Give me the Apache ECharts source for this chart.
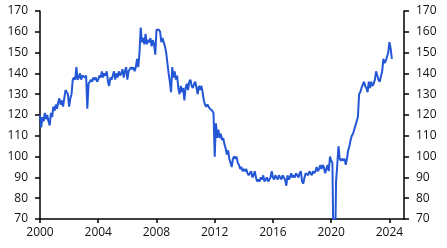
<!DOCTYPE html>
<html>
<head>
<meta charset="utf-8">
<script src="https://cdn.jsdelivr.net/npm/echarts@6/dist/echarts.min.js"></script>
<style>
html,body{margin:0;padding:0;background:#fff;}
#chart{width:447px;height:248px;}
</style>
</head>
<body>
<div id="chart"></div>
<script>
// Monthly index values, Jan 2000 onwards
const startYear = 2000;
const y2000 = [120, 114, 119, 117, 121, 118, 120, 117, 115, 121, 119, 124];
const y2001 = [122, 125, 123, 126, 128, 125, 127, 124, 128, 132, 131, 130];
const y2002 = [124, 128, 130, 137, 138, 137, 143, 137, 138, 140, 137, 139];
const y2003 = [139, 138, 139, 123, 135, 136, 137, 136, 138, 137, 138, 136];
const y2004 = [137, 139, 138, 141, 138, 140, 139, 141, 136, 134, 138, 137];
const y2005 = [139, 141, 137, 140, 138, 141, 139, 140, 142, 138, 141, 143];
const y2006 = [137, 141, 142, 143, 142, 143, 141, 143, 147, 143, 150, 162];
const y2007 = [155, 157, 154, 159, 154, 156, 155, 157, 153, 156, 154, 149];
const y2008 = [161, 161, 161, 160, 155, 157, 155, 153, 150, 145, 140, 136];
const y2009 = [131, 143, 138, 141, 137, 139, 133, 130, 134, 131, 133, 127];
const y2010 = [133, 135, 132, 136, 137, 134, 133, 135, 136, 133, 130, 134];
const y2011 = [132, 134, 131, 127, 125, 124, 125, 124, 123, 123, 122, 121];
const y2012 = [100, 116, 109, 113, 109, 111, 108, 109, 106, 104, 101, 103];
const y2013 = [99, 97, 95, 99, 100, 99, 100, 97, 96, 94, 95, 93];
const y2014 = [94, 93, 94, 92, 91, 92, 93, 90, 91, 93, 90, 88];
const y2015 = [89, 88, 90, 89, 91, 88, 89, 90, 88, 89, 90, 93];
const y2016 = [90, 89, 91, 90, 89, 91, 90, 89, 91, 90, 89, 86];
const y2017 = [91, 89, 90, 92, 90, 91, 90, 92, 91, 90, 92, 93];
const y2018 = [88, 87, 90, 92, 92, 91, 93, 92, 91, 93, 92, 93];
const y2019 = [95, 93, 94, 96, 94, 96, 95, 92, 92, 96, 93, 100];
const y2020 = [98, 97, 50, 45, 88, 96, 105, 99, 98, 99, 98, 99];
const y2021 = [96, 99, 103, 105, 108, 110, 111, 113, 115, 117, 119, 130];
const y2022 = [131, 133, 133, 136, 134, 133, 131, 136, 133, 136, 134, 135];
const y2023 = [137, 141, 139, 137, 136, 136, 141, 147, 145, 146, 148, 150];
const y2024 = [155, 152, 147];

const xTickYears = [2000, 2004, 2008, 2012, 2016, 2020, 2024];
const yTicks = [70, 80, 90, 100, 110, 120, 130, 140, 150, 160, 170];

const allValues = [].concat(y2000, y2001, y2002, y2003, y2004, y2005, y2006, y2007,
  y2008, y2009, y2010, y2011, y2012, y2013, y2014, y2015, y2016, y2017, y2018,
  y2019, y2020, y2021, y2022, y2023, y2024);
const seriesData = allValues.map((v, i) => [startYear + i / 12, v]);

const font = '"Open Sans", "Noto Sans", sans-serif';
const axisColor = '#000';
const labelStyle = { color: '#111', fontSize: 12, fontFamily: font };

const yAxisCommon = {
  type: 'value', min: 70, max: 170, interval: 10,
  splitLine: { show: false },
  axisLine: { show: true, lineStyle: { color: axisColor, width: 1.5 } },
  axisTick: { show: true, length: 5, lineStyle: { color: axisColor, width: 1.5 } },
};

const chart = echarts.init(document.getElementById('chart'), null, { renderer: 'canvas' });
chart.setOption({
  animation: false,
  backgroundColor: '#fff',
  grid: { left: 40, right: 43, top: 11, bottom: 29, containLabel: false, outerBoundsMode: 'none' },
  xAxis: {
    type: 'value', min: 2000, max: 2025,
    splitLine: { show: false },
    axisLine: { show: true, onZero: false, lineStyle: { color: axisColor, width: 1.5 } },
    axisTick: { show: true, length: 4, customValues: xTickYears, lineStyle: { color: axisColor, width: 1.5 } },
    axisLabel: Object.assign({ margin: 8, customValues: xTickYears, formatter: v => String(v) }, labelStyle)
  },
  yAxis: [
    Object.assign({ position: 'left', axisLabel: Object.assign({ margin: 12 }, labelStyle) }, yAxisCommon),
    Object.assign({ position: 'right', axisLabel: Object.assign({ margin: 12 }, labelStyle) }, yAxisCommon)
  ],
  series: [{
    type: 'line', yAxisIndex: 0, data: seriesData, showSymbol: false, symbol: 'none',
    clip: true,
    lineStyle: { color: '#2457d6', width: 2 }
  }]
});
</script>
</body>
</html>
